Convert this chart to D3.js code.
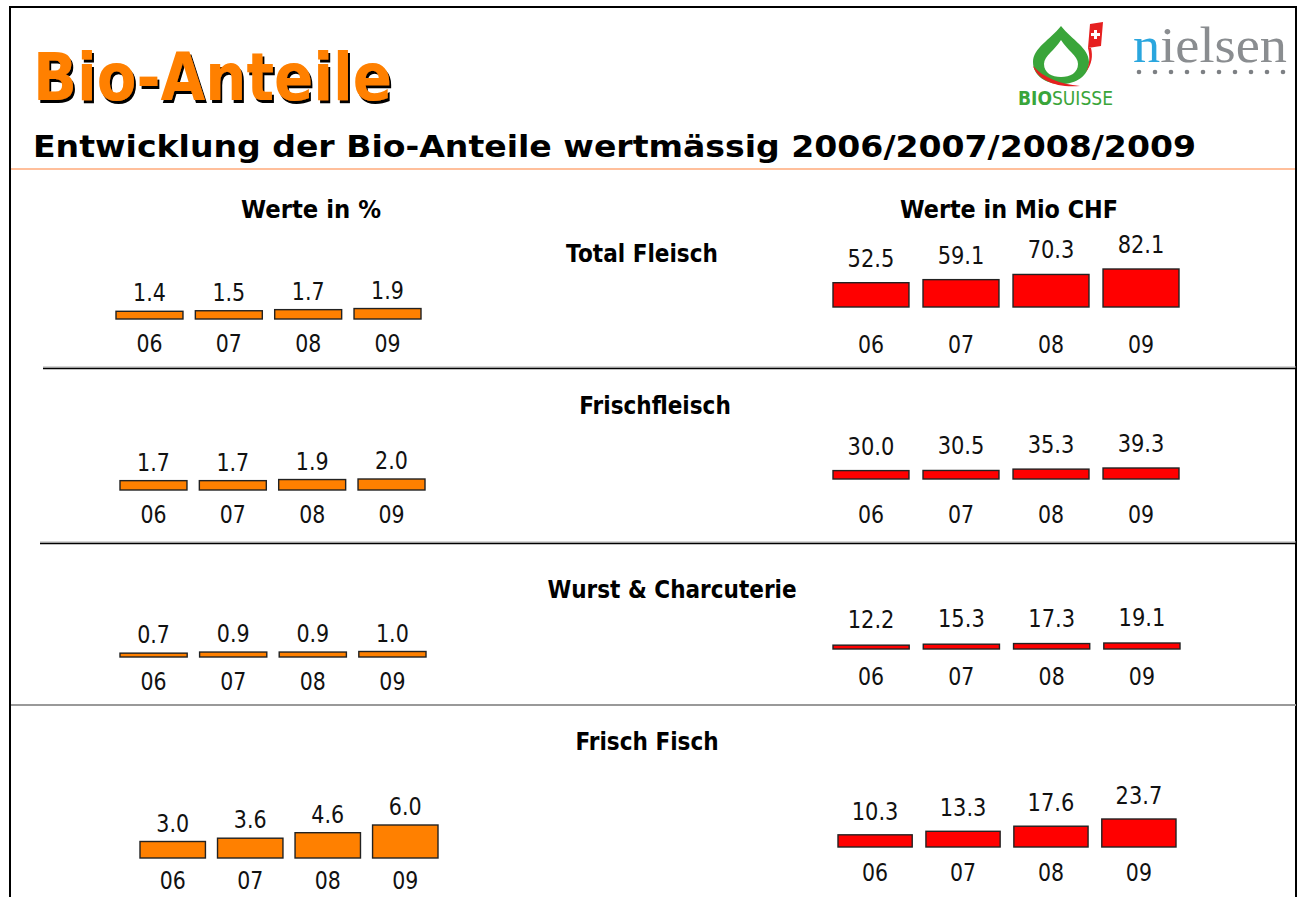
<!DOCTYPE html>
<html>
<head>
<meta charset="utf-8">
<script src="https://cdn.jsdelivr.net/npm/d3@7"></script>
<style>
  body { margin: 0; background: #fff; }
  svg text { font-family: "DejaVu Sans", Verdana, sans-serif; }
</style>
</head>
<body>
<svg id="chart"></svg>
<script>
const size = {w: 1302, h: 897};

// DATA
const years = ['06', '07', '08', '09'];
const groups = ['Total Fleisch', 'Frischfleisch', 'Wurst & Charcuterie', 'Frisch Fisch'];
const sharePct = [
    [1.4, 1.5, 1.7, 1.9],
    [1.7, 1.7, 1.9, 2.0],
    [0.7, 0.9, 0.9, 1.0],
    [3.0, 3.6, 4.6, 6.0]
];
const valueMio = [
    [52.5, 59.1, 70.3, 82.1],
    [30.0, 30.5, 35.3, 39.3],
    [12.2, 15.3, 17.3, 19.1],
    [10.3, 13.3, 17.6, 23.7]
];

// LAYOUT per panel (pixel positions only)
const layout = [
    {title: [642, 262], L: {x: [116, 421], base: 319, gap: 10, yr: 352}, R: {x: [833, 1179], base: 307, h: 38, gap: 16, yr: 353}},
    {title: [655, 414], L: {x: [120, 425], base: 490, gap: 10, yr: 523}, R: {x: [833, 1179], base: 479, h: 11, gap: 16, yr: 523}},
    {title: [672, 598], L: {x: [120, 426], base: 657, gap: 10, yr: 690}, R: {x: [833, 1180], base: 649, h: 6, gap: 17, yr: 685}},
    {title: [647, 750], L: {x: [140, 438], base: 858, gap: 10, yr: 889}, R: {x: [838, 1176], base: 847, h: 28, gap: 15, yr: 881}}
];

const svg = d3.select('svg#chart')
    .attr('width', size.w)
    .attr('height', size.h);

//shadow filter for the big title
svg.append('defs')
    .append('filter')
    .attr('id', 'shadow')
    .attr('x', '-5%').attr('y', '-10%').attr('width', '110%').attr('height', '130%')
    .append('feDropShadow')
    .attr('dx', 2).attr('dy', 3)
    .attr('stdDeviation', 0.4)
    .attr('flood-color', '#000')
    .attr('flood-opacity', 1);

//TEXT HELPER
function txt(g, x, y, s, o) {
    return g.append('text')
        .attr('transform', `translate(${x},${y}) scale(${o.sx || 1},1)`)
        .attr('text-anchor', o.anchor || 'middle')
        .attr('font-size', o.size)
        .attr('font-weight', o.weight || 'normal')
        .attr('fill', o.fill || '#111')
        .text(s);
}

//FRAME
svg.append('rect')
    .attr('x', 10).attr('y', 7)
    .attr('width', 1286).attr('height', 920)
    .attr('fill', 'none').attr('stroke', '#000').attr('stroke-width', 2);

//HEADER
svg.append('text')
    .attr('x', 33).attr('y', 100)
    .attr('font-size', 66).attr('font-weight', 'bold')
    .attr('textLength', 359).attr('lengthAdjust', 'spacingAndGlyphs')
    .attr('fill', '#FF8000')
    .attr('filter', 'url(#shadow)')
    .text('Bio-Anteile');

svg.append('text')
    .attr('x', 33).attr('y', 157)
    .attr('font-size', 30).attr('font-weight', 'bold')
    .attr('textLength', 1163).attr('lengthAdjust', 'spacingAndGlyphs')
    .attr('fill', '#000')
    .text('Entwicklung der Bio-Anteile wertmässig 2006/2007/2008/2009');

svg.append('line')
    .attr('x1', 11).attr('x2', 1295).attr('y1', 169).attr('y2', 169)
    .attr('stroke', '#FFAA7A').attr('stroke-width', 1.5);

//LOGOS
const logo = svg.append('g').classed('logos', true);
// bio suisse bud
logo.append('path')
    .attr('d', 'M1061,26 C1050,40 1033,48 1033,62 C1033,76 1046,84 1061,84 C1076,84 1089,76 1089,62 C1089,48 1072,40 1061,26 Z')
    .attr('fill', '#3AA53A');
logo.append('path')
    .attr('d', 'M1061,40 C1055,50 1044,56 1044,64 C1044,73 1052,77 1061,77 C1070,77 1078,73 1078,64 C1078,56 1067,50 1061,40 Z')
    .attr('fill', '#fff');
logo.append('path')
    .attr('d', 'M1033,66 C1038,80 1055,88 1080,86 C1060,84 1044,78 1033,66 Z')
    .attr('fill', '#E62020');
logo.append('path')
    .attr('d', 'M1090,24 L1103,22 L1101,46 L1088,48 Z M1088,48 C1090,56 1090,64 1086,72 C1092,64 1093,56 1091,48 Z')
    .attr('fill', '#E62020');
logo.append('path')
    .attr('d', 'M1094,30 h3 v3 h3 v3 h-3 v3 h-3 v-3 h-3 v-3 h3 Z')
    .attr('fill', '#fff');
logo.append('text')
    .attr('x', 1018).attr('y', 105)
    .attr('font-size', 19)
    .attr('textLength', 95).attr('lengthAdjust', 'spacingAndGlyphs')
    .attr('fill', '#3AA53A')
    .html('<tspan font-weight="bold">BIO</tspan>SUISSE');
// nielsen
logo.append('text')
    .attr('x', 1133).attr('y', 62)
    .attr('font-size', 50)
    .attr('textLength', 154).attr('lengthAdjust', 'spacingAndGlyphs')
    .style('font-family', '"Liberation Serif", "DejaVu Serif", serif')
    .attr('fill', '#8A8D90')
    .html('<tspan fill="#2AA6DE">n</tspan>ielsen');
logo.append('g')
    .selectAll('circle')
    .data(d3.range(10))
    .join('circle')
    .attr('cx', d => 1139 + d * 16)
    .attr('cy', 72)
    .attr('r', 2.3)
    .attr('fill', '#7D8084');

//COLUMN TITLES
txt(svg, 311, 218, 'Werte in %', {size: 24, weight: 'bold', sx: 0.95, fill: '#000'});
txt(svg, 1009, 218, 'Werte in Mio CHF', {size: 24, weight: 'bold', sx: 0.93, fill: '#000'});

//SEPARATORS
svg.append('line').attr('x1', 43).attr('x2', 1296).attr('y1', 367).attr('y2', 367)
    .attr('stroke', '#aaa').attr('stroke-width', 1);
svg.append('line').attr('x1', 43).attr('x2', 1296).attr('y1', 368.5).attr('y2', 368.5)
    .attr('stroke', '#000').attr('stroke-width', 1.5);
svg.append('line').attr('x1', 40).attr('x2', 1296).attr('y1', 542).attr('y2', 542)
    .attr('stroke', '#aaa').attr('stroke-width', 1);
svg.append('line').attr('x1', 40).attr('x2', 1296).attr('y1', 543.5).attr('y2', 543.5)
    .attr('stroke', '#000').attr('stroke-width', 1.5);
svg.append('line').attr('x1', 11).attr('x2', 1296).attr('y1', 705).attr('y2', 705)
    .attr('stroke', '#999').attr('stroke-width', 2);

//SCALES
const yLeft = d3.scaleLinear()
    .domain([0, d3.max(sharePct.flat())])
    .range([0, 33]);

//DRAW PANELS
groups.forEach((name, i) => {
    const lay = layout[i];
    const g = svg.append('g').classed('panel', true);

    txt(g, lay.title[0], lay.title[1], name, {size: 24, weight: 'bold', sx: 0.9, fill: '#000'});

    drawBars(g, sharePct[i], lay.L, yLeft, '#FF8000', {size: 24, sx: 0.86});

    const yRight = d3.scaleLinear()
        .domain([0, d3.max(valueMio[i])])
        .range([0, lay.R.h]);
    drawBars(g, valueMio[i], lay.R, yRight, '#FF0000', {size: 25, sx: 0.84});
});

function drawBars(g, values, lay, yScale, color, font) {
    const x = d3.scaleBand()
        .domain(years)
        .range(lay.x)
        .paddingInner(0.156)
        .paddingOuter(0);

    const data = years.map((yr, k) => ({yr: yr, v: values[k]}));

    g.append('g')
        .selectAll('rect')
        .data(data)
        .join('rect')
        .attr('x', d => x(d.yr))
        .attr('y', d => lay.base - yScale(d.v))
        .attr('width', x.bandwidth())
        .attr('height', d => yScale(d.v))
        .attr('fill', color)
        .attr('stroke', '#222')
        .attr('stroke-width', 1.4);

    data.forEach(d => {
        const cx = x(d.yr) + x.bandwidth() / 2;
        txt(g, cx, lay.base - yScale(d.v) - lay.gap, d.v.toFixed(1), font);
        txt(g, cx, lay.yr, d.yr, {size: 25, sx: 0.82});
    });
}
</script>
</body>
</html>
